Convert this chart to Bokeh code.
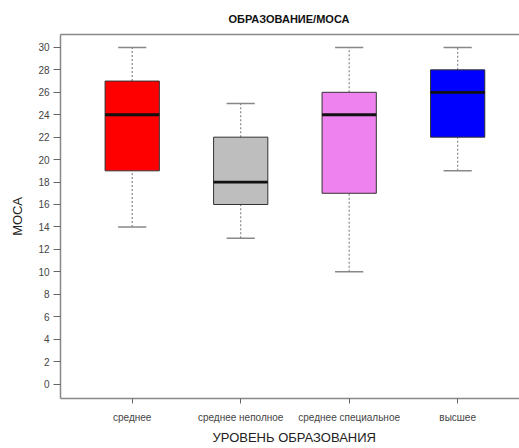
from bokeh.plotting import figure
from bokeh.models import Range1d, FixedTicker, ColumnDataSource, Title, LinearAxis
from bokeh.embed import file_html
from bokeh.resources import INLINE

# ---- data ----
categories = ["среднее", "среднее неполное", "среднее специальное", "высшее"]
mins = [14, 13, 10, 19]
q1 = [19, 16, 17, 22]
medians = [24, 18, 24, 26]
q3 = [27, 22, 26, 28]
maxs = [30, 25, 30, 30]
colors = ["#FF0000", "#BEBEBE", "#EE82EE", "#0000FF"]
y_ticks = list(range(0, 31, 2))

title_text = "ОБРАЗОВАНИЕ/МОСА"
x_label = "УРОВЕНЬ ОБРАЗОВАНИЯ"
y_label = "МОСА"

xs = [i + 1 for i in range(len(categories))]
box_w = 0.5
cap_w = 0.26

src = ColumnDataSource(dict(
    x=xs, lo=mins, q1=q1, med=medians, q3=q3, hi=maxs, color=colors,
    cap_l=[x - cap_w / 2 for x in xs], cap_r=[x + cap_w / 2 for x in xs],
    box_l=[x - box_w / 2 for x in xs], box_r=[x + box_w / 2 for x in xs],
))

FONT = "Liberation Sans"
Y_TOP = 31.15

p = figure(width=519, height=448, output_backend="svg", toolbar_location=None,
           x_range=Range1d(0.339, 4.570), y_range=Range1d(-1.29, Y_TOP))
p.min_border_left = 60
p.min_border_right = 0
p.min_border_top = 34
p.min_border_bottom = 50
p.outline_line_color = None
p.background_fill_color = "white"
p.border_fill_color = "white"
p.grid.visible = False

# keep handles on the default axes before adding more
xa = p.below[0]
ya = p.left[0]

# top spine: an above axis without ticks or labels
top = LinearAxis(ticker=FixedTicker(ticks=[]), major_tick_out=0, major_tick_in=0,
                 minor_tick_out=0, minor_tick_in=0, major_tick_line_color=None,
                 minor_tick_line_color=None, major_label_standoff=0,
                 axis_line_color="#888888", axis_line_width=1.5)
p.add_layout(top, "above")

# title
p.title.text = title_text
p.title.text_font = FONT
p.title.text_font_size = "11px"
p.title.text_font_style = "bold"
p.title.text_color = "#111111"
p.title.align = "left"
p.title.offset = 168
p.title.standoff = 20

# whiskers (dashed)
p.segment(x0="x", y0="q3", x1="x", y1="hi", source=src, line_color="#888888",
          line_width=1.2, line_dash="2 2")
p.segment(x0="x", y0="lo", x1="x", y1="q1", source=src, line_color="#888888",
          line_width=1.2, line_dash="2 2")
# caps
p.segment(x0="cap_l", y0="hi", x1="cap_r", y1="hi", source=src, line_color="#888888", line_width=1.5)
p.segment(x0="cap_l", y0="lo", x1="cap_r", y1="lo", source=src, line_color="#888888", line_width=1.5)
# boxes
p.quad(left="box_l", right="box_r", bottom="q1", top="q3", source=src,
       fill_color="color", line_color="#333333", line_width=1)
# medians
p.segment(x0="box_l", y0="med", x1="box_r", y1="med", source=src,
          line_color="#111111", line_width=2.8)

# y axis
ya.ticker = FixedTicker(ticks=y_ticks)
ya.axis_label = y_label
ya.axis_label_text_font = FONT
ya.axis_label_text_font_size = "13px"
ya.axis_label_text_font_style = "normal"
ya.axis_label_text_color = "#222222"
ya.axis_label_standoff = 10
ya.major_label_text_font = FONT
ya.major_label_text_font_size = "10px"
ya.major_label_text_color = "#444444"
ya.major_label_standoff = 4
ya.major_tick_out = 7
ya.major_tick_in = 0
ya.minor_tick_out = 0
ya.minor_tick_in = 0
ya.axis_line_color = "#888888"
ya.axis_line_width = 1.5
ya.major_tick_line_color = "#666666"

# x axis
xa.ticker = FixedTicker(ticks=xs)
xa.major_label_overrides = {x: c for x, c in zip(xs, categories)}
xa.major_label_text_font = FONT
xa.major_label_text_font_size = "10px"
xa.major_label_text_color = "#444444"
xa.major_label_standoff = 8
xa.major_tick_out = 5
xa.major_tick_in = 0
xa.minor_tick_out = 0
xa.minor_tick_in = 0
xa.axis_line_color = "#888888"
xa.axis_line_width = 1.5
xa.major_tick_line_color = "#666666"

# x axis title as a title below the axis
p.add_layout(Title(text=x_label, align="left", offset=152, text_font=FONT, text_font_size="13px",
                   text_font_style="normal", text_color="#222222", standoff=4), "below")

open("out.html", "w").write(file_html(p, INLINE))
